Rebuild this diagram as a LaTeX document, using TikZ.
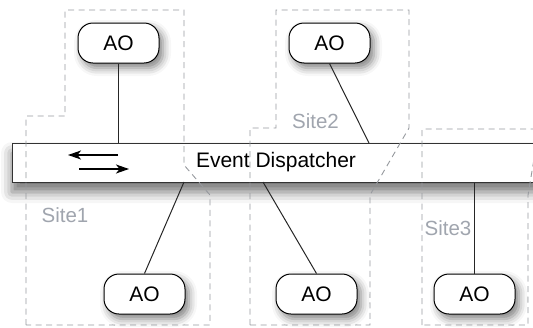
\documentclass[tikz,border=0pt]{standalone}
\usepackage{fontspec}
\setmainfont{Liberation Sans}
\usetikzlibrary{arrows.meta,shadows.blur}
\definecolor{sitegray}{RGB}{150,153,158}
\definecolor{labelgray}{RGB}{160,165,174}
\begin{document}
\begin{tikzpicture}[x=1pt,y=-1pt,
  ao/.style={draw=black, line width=1pt, fill=white, rounded corners=15pt,
    minimum width=81pt, minimum height=40pt, inner sep=0pt,
    font=\fontsize{21}{24}\selectfont,
    blur shadow={shadow xshift=4pt, shadow yshift=-5pt, shadow blur radius=8pt, shadow opacity=50}},
  bar/.style={draw=black!80, line width=1pt, fill=white,
    minimum width=528pt, minimum height=39pt, inner sep=0pt,
    font=\fontsize{21}{24}\selectfont,
    blur shadow={shadow xshift=0pt, shadow yshift=-10pt, shadow blur radius=11pt, shadow opacity=55}},
  site/.style={draw=sitegray, line width=0.9pt, dash pattern=on 6pt off 4.5pt},
  sitelabel/.style={text=labelgray, inner sep=0pt, font=\fontsize{20.5}{24}\selectfont},
  conn/.style={draw=black!85, line width=1pt},
  flow/.style={draw=black, line width=1.1pt, -{Stealth[length=13pt,width=9pt,inset=3.5pt]}}]
\useasboundingbox (0,0) rectangle (533,327);
\clip (0,0) rectangle (533,327);
% event dispatcher bar
\node[bar] (disp) at (276,162.5) {Event Dispatcher};
% site outlines
\draw[site] (26,325) -- (26,116) -- (65,116) -- (65,10) -- (184,10) -- (184,165) -- (210,195) -- (210,325) -- cycle;
\draw[site] (250,325) -- (250,128) -- (276,128) -- (276,10) -- (409,10) -- (409,128) -- (370,195) -- (370,325) -- cycle;
\draw[site] (422,325) -- (422,129) -- (545,129) -- (539,129) -- (528,195) -- (528,325) -- cycle;
\node[sitelabel] (s1) at (65,215) {Site1};
\node[sitelabel] (s2) at (315.5,121) {Site2};
\node[sitelabel] (s3) at (448,228) {Site3};
% active objects
\node[ao] (ao1) at (118.5,43) {AO};
\node[ao] (ao2) at (329.5,43) {AO};
\node[ao] (ao3) at (144.5,294) {AO};
\node[ao] (ao4) at (316.5,294) {AO};
\node[ao] (ao5) at (474.5,294) {AO};
% connection points on the bar
\coordinate (c2) at (369,143);
\coordinate (c3) at (184,182);
\coordinate (c4) at (263,182);
% connectors
\draw[conn] (ao1.south) -- (ao1.south |- disp.north);
\draw[conn] (ao2.south) -- (c2);
\draw[conn] (c3) -- (ao3.north);
\draw[conn] (c4) -- (ao4.north);
\draw[conn] (ao5.north |- disp.south) -- (ao5.north);
% flow arrows
\coordinate (f1a) at (118,155);
\coordinate (f1b) at (68,155);
\coordinate (f2a) at (79,169);
\coordinate (f2b) at (129,169);
\draw[flow] (f1a) -- (f1b);
\draw[flow] (f2a) -- (f2b);
\end{tikzpicture}
\end{document}
